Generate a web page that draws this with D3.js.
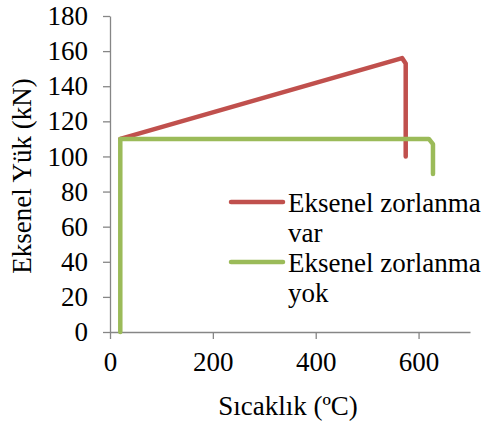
<!DOCTYPE html>
<html>
<head>
<meta charset="utf-8">
<script src="https://cdn.jsdelivr.net/npm/d3@7"></script>
<style>
  body { margin: 0; background: #fff; }
  text { font-family: "Liberation Serif", "Times New Roman", serif; fill: #000; }
  .eksen path, .eksen line { stroke: #868686; stroke-width: 1.3; }
  .eksen text { font-size: 27px; }
  .titulo { font-size: 27px; }
  .legenda { font-size: 27px; }
</style>
</head>
<body>
<svg id="grafico"></svg>
<script>
// dados
const zorlanmaVar = [[20, 110], [568, 156], [575, 153], [575, 100]];
const zorlanmaYok = [[20, 0], [20, 110], [620, 110], [628, 107], [628, 90]];
const seriler = ['Eksenel zorlanma var', 'Eksenel zorlanma yok'];
const renkler = ['#C0504D', '#9BBB59'];
const xTicks = [0, 200, 400, 600];
const yTicks = [0, 20, 40, 60, 80, 100, 120, 140, 160, 180];

const largura = 491, altura = 423;
const margem = { esquerda: 110, direita: 21, superior: 16, inferior: 91 };

const svg = d3.select('#grafico').attr('width', largura).attr('height', altura);

const x = d3.scaleLinear().domain([0, 700]).range([margem.esquerda, largura - margem.direita]);
const y = d3.scaleLinear().domain([0, 180]).range([altura - margem.inferior, margem.superior]);

// eixos
svg.append('g')
    .classed('eksen', true)
    .attr('transform', `translate(0, ${y(0)})`)
    .call(d3.axisBottom(x).tickValues(xTicks).tickSize(7).tickSizeOuter(0).tickPadding(13));

svg.append('g')
    .classed('eksen', true)
    .attr('transform', `translate(${x(0)}, 0)`)
    .call(d3.axisLeft(y).tickValues(yTicks).tickSize(7).tickSizeOuter(0).tickPadding(15));

svg.selectAll('.eksen .domain').attr('stroke', '#868686');
svg.selectAll('.eksen text').attr('fill', '#000');

// títulos
svg.append('text')
    .classed('titulo', true)
    .attr('text-anchor', 'middle')
    .attr('transform', `translate(${(x(0) + x(700)) / 2 - 2}, 415)`)
    .text('Sıcaklık (ºC)');

svg.append('text')
    .classed('titulo', true)
    .attr('text-anchor', 'middle')
    .attr('transform', `translate(31, ${(y(0) + y(180)) / 2 + 2}) rotate(-90)`)
    .text('Eksenel Yük (kN)');

// linhas
const linha = d3.line().x(d => x(d[0])).y(d => y(d[1]));
[zorlanmaVar, zorlanmaYok].forEach((serie, i) => {
  svg.append('path')
      .datum(serie)
      .attr('d', linha)
      .attr('fill', 'none')
      .attr('stroke', renkler[i])
      .attr('stroke-width', 4.5)
      .attr('stroke-linecap', 'round')
      .attr('stroke-linejoin', 'round');
});

// legenda
const legenda = svg.append('g').classed('legenda', true);
seriler.forEach((nome, i) => {
  const y0 = 202 + i * 60;
  legenda.append('line')
      .attr('x1', 231).attr('x2', 283)
      .attr('y1', y0).attr('y2', y0)
      .attr('stroke', renkler[i])
      .attr('stroke-width', 4.5)
      .attr('stroke-linecap', 'round');
  const palavras = nome.split(' ');
  const t = legenda.append('text').attr('x', 288).attr('y', y0 + 9.5);
  t.append('tspan').text(palavras.slice(0, 2).join(' '));
  t.append('tspan').attr('x', 288).attr('dy', 30.5).text(palavras[2]);
});
</script>
</body>
</html>
